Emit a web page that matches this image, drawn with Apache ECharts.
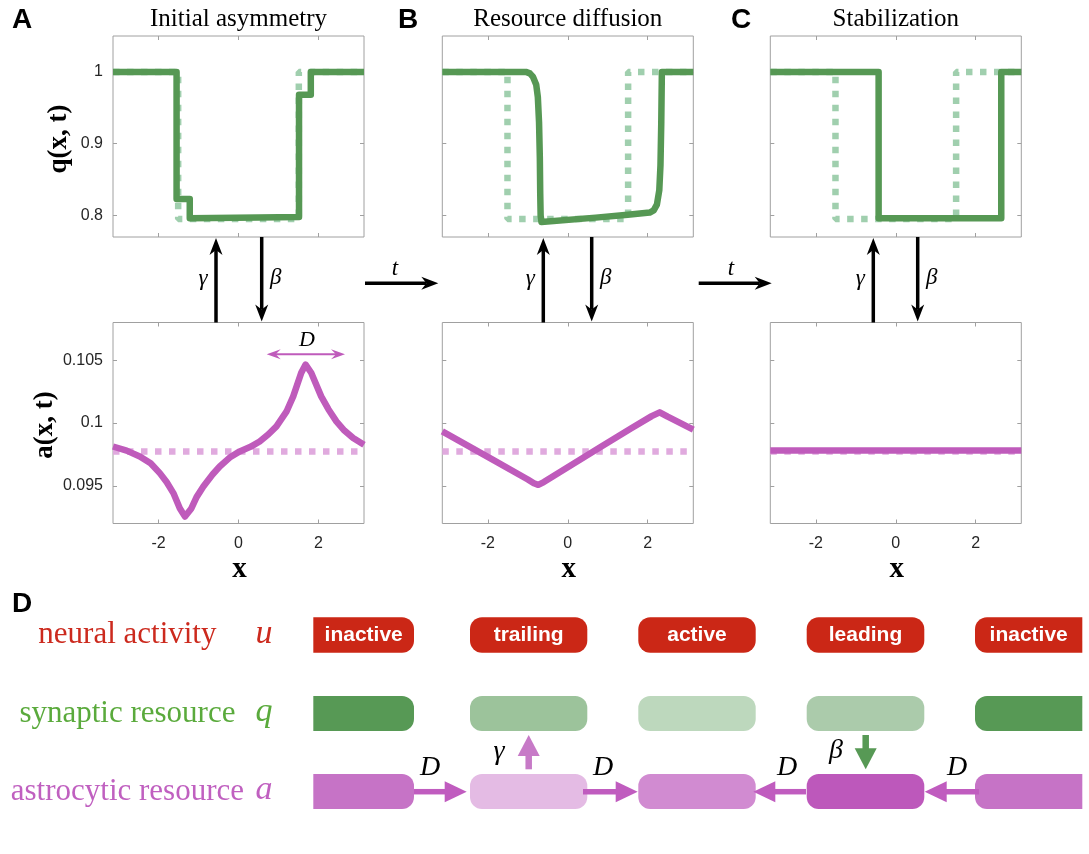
<!DOCTYPE html>
<html><head><meta charset="utf-8">
<script src="https://cdn.jsdelivr.net/npm/echarts@6/dist/echarts.min.js"></script>
<style>html,body{margin:0;padding:0;background:#fff}#c{width:1089px;height:854px}</style>
</head><body><div id="c"></div>
<script>
const PI = Math.PI;
// ---------- data ----------
const xTicks = [-2, 0, 2];
const qTicks = [0.8, 0.9, 1];
const aTicks = [0.095, 0.1, 0.105];
const qRange = [0.77, 1.05];
const aRange = [0.092, 0.108];
const panelTitles = ['Initial asymmetry', 'Resource diffusion', 'Stabilization'];
const panelLetters = ['A', 'B', 'C'];

const qInitial = [[-PI,1],[-1.51,1],[-1.51,0.795],[1.51,0.795],[1.51,1],[PI,1]];
const qA = [[-PI,1],[-1.55,1],[-1.55,0.823],[-1.22,0.823],[-1.22,0.796],[0.5,0.797],[1.515,0.798],[1.515,0.968],[1.81,0.968],[1.81,1],[PI,1]];
const qB = [[-PI,1],[-1.05,1],[-0.95,0.998],[-0.87,0.993],[-0.79,0.982],[-0.75,0.965],[-0.72,0.93],[-0.70,0.88],[-0.69,0.83],[-0.68,0.80],[-0.66,0.791],[0.7,0.797],[1.5,0.801],[2.05,0.804],[2.15,0.807],[2.23,0.815],[2.29,0.835],[2.32,0.87],[2.34,0.93],[2.355,1],[PI,1]];
const qC = [[-PI,1],[-0.43,1],[-0.43,0.796],[2.64,0.796],[2.64,1],[PI,1]];

const aInitial = [[-PI,0.09774],[PI,0.09774]];
const aA = [[-PI,0.09813],[-2.8,0.0978],[-2.47,0.09734],[-2.2,0.0968],[-1.97,0.09601],[-1.8,0.0953],[-1.63,0.09442],[-1.47,0.09322],[-1.34,0.09255],[-1.18,0.0932],[-1.05,0.0941],[-0.88,0.09494],[-0.65,0.0959],[-0.47,0.09654],[-0.2,0.0973],[0.03,0.09774],[0.3,0.0981],[0.53,0.09853],[0.75,0.0991],[0.95,0.09973],[1.2,0.1009],[1.37,0.10212],[1.57,0.10399],[1.68,0.10465],[1.82,0.104],[2.07,0.10212],[2.25,0.1011],[2.45,0.10013],[2.65,0.0994],[2.87,0.0988],[PI,0.09827]];
const aB = [[-PI,0.09933],[-1.87,0.09707],[-1.0,0.0955],[-0.85,0.0952],[-0.74,0.09508],[-0.6,0.0953],[0.8,0.09805],[1.6,0.0996],[2.1,0.10055],[2.3,0.10085],[2.5,0.1005],[PI,0.09947]];
const aC = [[-PI,0.09781],[PI,0.09781]];

const qSeries = [qA, qB, qC];
const aSeries = [aA, aB, aC];

const stateLabels = ['inactive', 'trailing', 'active', 'leading', 'inactive'];
const rowNames = ['neural activity', 'synaptic resource', 'astrocytic resource'];
const rowSymbols = ['u', 'q', 'a'];
const rowTextColors = ['#cc2a1e', '#5aaa3c', '#c060c0'];
const boxColors = [
  ['#cb2716','#cb2716','#cb2716','#cb2716','#cb2716'],
  ['#579955','#9cc39b','#bdd8bd','#abcbab','#579955'],
  ['#c673c6','#e4bbe4','#d18bd1','#bd58bb','#c673c6']
];

// ---------- layout ----------
const cols = [113, 442.3, 770.3];
const GW = 251, GH = 201;
const rowsTop = [36, 322.5];
const GREEN = '#569854', GREEN_L = '#a0cfae', MAG = '#bf5bbb', MAG_L = '#e0aade';
const AX = '#a0a0a0';
const SERIF = '"Liberation Serif", "Times New Roman", serif';
const SANS = '"Liberation Sans", Arial, sans-serif';

const grids = [], xAxes = [], yAxes = [], series = [];
for (let r = 0; r < 2; r++) {
  for (let c = 0; c < 3; c++) {
    const gi = r * 3 + c;
    grids.push({left: cols[c], top: rowsTop[r], width: GW, height: GH, show: true, borderColor: AX, borderWidth: 1, backgroundColor: 'transparent'});
    const tick = {inside: true, length: 4, lineStyle: {color: AX, width: 1}, customValues: xTicks};
    xAxes.push({gridIndex: gi, type: 'value', min: -PI, max: PI, position: 'bottom',
      axisLine: {show: false, onZero: false}, splitLine: {show: false}, axisTick: tick,
      axisLabel: {show: r === 1, customValues: xTicks, margin: 12, fontSize: 16, color: '#262626', fontFamily: SANS}});
    xAxes.push({gridIndex: gi, type: 'value', min: -PI, max: PI, position: 'top',
      axisLine: {show: false, onZero: false}, splitLine: {show: false}, axisTick: tick, axisLabel: {show: false}});
    const yt = r === 0 ? qTicks : aTicks;
    const yr = r === 0 ? qRange : aRange;
    const ytick = {inside: true, length: 4, lineStyle: {color: AX, width: 1}, customValues: yt};
    yAxes.push({gridIndex: gi, type: 'value', min: yr[0], max: yr[1], position: 'left',
      axisLine: {show: false, onZero: false}, splitLine: {show: false}, axisTick: ytick,
      axisLabel: {show: c === 0, customValues: yt, margin: 10, fontSize: 16, color: '#262626', fontFamily: SANS,
        formatter: v => String(+(+v).toFixed(3))}});
    yAxes.push({gridIndex: gi, type: 'value', min: yr[0], max: yr[1], position: 'right',
      axisLine: {show: false, onZero: false}, splitLine: {show: false}, axisTick: ytick, axisLabel: {show: false}});
    const initial = r === 0 ? qInitial : aInitial;
    const main = r === 0 ? qSeries[c] : aSeries[c];
    series.push({type: 'line', xAxisIndex: 2 * gi, yAxisIndex: 2 * gi, data: initial, symbol: 'none', z: 2,
      lineStyle: {color: r === 0 ? GREEN_L : MAG_L, width: 6.5, type: [6.5, 7.5], cap: 'butt'}, animation: false});
    series.push({type: 'line', xAxisIndex: 2 * gi, yAxisIndex: 2 * gi, data: main, symbol: 'none', z: 3,
      lineStyle: {color: r === 0 ? GREEN : MAG, width: 6.5, join: 'round', cap: 'butt'}, animation: false});
  }
}

// ---------- annotations ----------
const G = [];
function txt(x, y, text, font, fill, align, rot) {
  G.push({type: 'text', x, y, rotation: rot || 0, z: 100,
    style: {text, font, fill: fill || '#000', align: align || 'center', verticalAlign: 'middle'}});
}
function arrow(x1, y1, x2, y2, color, w, hl, hw, notch) {
  const dx = x2 - x1, dy = y2 - y1, L = Math.hypot(dx, dy);
  const ux = dx / L, uy = dy / L, px = -uy, py = ux;
  const bx = x2 - ux * hl, by = y2 - uy * hl;
  const nx = x2 - ux * hl * notch, ny = y2 - uy * hl * notch;
  G.push({type: 'line', z: 100, shape: {x1, y1, x2: nx, y2: ny}, style: {stroke: color, lineWidth: w}});
  G.push({type: 'polygon', z: 101, shape: {points: [[x2, y2], [bx + px * hw / 2, by + py * hw / 2], [nx, ny], [bx - px * hw / 2, by - py * hw / 2]]}, style: {fill: color}});
}
for (let c = 0; c < 3; c++) txt(cols[c] + GW / 2, 19, panelTitles[c], '25px ' + SERIF, '#000');
[[12, 20], [398, 20], [731, 20]].forEach((p, i) => txt(p[0], p[1], panelLetters[i], 'bold 28px ' + SANS, '#000', 'left'));
txt(12, 604, 'D', 'bold 28px ' + SANS, '#000', 'left');
txt(59, 139, 'q(x, t)', 'bold 27px ' + SERIF, '#000', 'center', PI / 2);
txt(45, 425, 'a(x, t)', 'bold 27px ' + SERIF, '#000', 'center', PI / 2);
for (let c = 0; c < 3; c++) txt(cols[c] + GW / 2 + 1, 570, 'x', 'bold 29px ' + SERIF, '#000');
const gX = [216, 543.3, 873.3], bX = [261.7, 591.7, 917.7];
for (let c = 0; c < 3; c++) {
  arrow(gX[c], 322.5, gX[c], 238, '#000', 3.5, 17, 13, 0.7);
  arrow(bX[c], 237, bX[c], 321.5, '#000', 3.5, 17, 13, 0.7);
  txt(gX[c] - 13, 279, 'γ', 'italic 23px ' + SERIF, '#000');
  txt(bX[c] + 14, 278, 'β', 'italic 23px ' + SERIF, '#000');
}
arrow(365, 283.3, 438.3, 283.3, '#000', 3.5, 17, 13, 0.7);
arrow(698.7, 283.3, 771.7, 283.3, '#000', 3.5, 17, 13, 0.7);
txt(395, 269, 't', 'italic 23px ' + SERIF, '#000');
txt(731, 269, 't', 'italic 23px ' + SERIF, '#000');
(function () {
  const x1 = 266.7, x2 = 345, y = 354.3;
  G.push({type: 'line', z: 100, shape: {x1: x1 + 8, y1: y, x2: x2 - 8, y2: y}, style: {stroke: MAG, lineWidth: 2}});
  G.push({type: 'polygon', z: 101, shape: {points: [[x1, y], [x1 + 14, y - 5], [x1 + 9, y], [x1 + 14, y + 5]]}, style: {fill: MAG}});
  G.push({type: 'polygon', z: 101, shape: {points: [[x2, y], [x2 - 14, y - 5], [x2 - 9, y], [x2 - 14, y + 5]]}, style: {fill: MAG}});
  txt(307, 340, 'D', 'italic 22px ' + SERIF, '#000');
})();

// ---------- panel D diagram ----------
const boxX = [[313.3, 414], [470, 587.3], [638.3, 755.7], [806.7, 924.3], [975, 1082.3]];
const rowY = [[617.3, 652.7], [696, 731], [774, 809]];
for (let r = 0; r < 3; r++) {
  for (let b = 0; b < 5; b++) {
    const R = 12;
    const rad = b === 0 ? [0, R, R, 0] : (b === 4 ? [R, 0, 0, R] : R);
    G.push({type: 'rect', z: 90, shape: {x: boxX[b][0], y: rowY[r][0], width: boxX[b][1] - boxX[b][0], height: rowY[r][1] - rowY[r][0], r: rad},
      style: {fill: boxColors[r][b]}});
    if (r === 0) txt((boxX[b][0] + boxX[b][1]) / 2, (rowY[r][0] + rowY[r][1]) / 2, stateLabels[b], 'bold 21px ' + SANS, '#fff');
  }
  const cy = (rowY[r][0] + rowY[r][1]) / 2;
  txt(127.4, cy, rowNames[r], '31px ' + SERIF, rowTextColors[r]);
  txt(264, cy - 1, rowSymbols[r], 'italic 34px ' + SERIF, rowTextColors[r]);
}
function triArrow(x1, y1, x2, y2, color, w, hl, hw) {
  const dx = x2 - x1, dy = y2 - y1, L = Math.hypot(dx, dy);
  const ux = dx / L, uy = dy / L, px = -uy, py = ux;
  const bx = x2 - ux * hl, by = y2 - uy * hl;
  G.push({type: 'line', z: 100, shape: {x1, y1, x2: bx + ux, y2: by + uy}, style: {stroke: color, lineWidth: w}});
  G.push({type: 'polygon', z: 101, shape: {points: [[x2, y2], [bx + px * hw / 2, by + py * hw / 2], [bx - px * hw / 2, by - py * hw / 2]]}, style: {fill: color}});
}
const AY = 791.7, MAGD = '#c05cbf';
triArrow(414, AY, 466.7, AY, MAGD, 5.5, 22, 21);
triArrow(583, AY, 637.7, AY, MAGD, 5.5, 22, 21);
triArrow(806, AY, 753.3, AY, MAGD, 5.5, 22, 21);
triArrow(979, AY, 924.7, AY, MAGD, 5.5, 22, 21);
[430, 603, 787, 957].forEach(x => txt(x, 768, 'D', 'italic 28px ' + SERIF, '#000'));
triArrow(528.7, 769.3, 528.7, 735, '#c77ac7', 6.5, 21, 22);
triArrow(865.7, 735, 865.7, 769.3, '#579955', 6.5, 21, 22);
txt(499, 752, 'γ', 'italic 28px ' + SERIF, '#000');
txt(836, 751, 'β', 'italic 28px ' + SERIF, '#000');

const chart = echarts.init(document.getElementById('c'), null, {renderer: 'canvas'});
chart.setOption({
  animation: false,
  backgroundColor: '#fff',
  grid: grids, xAxis: xAxes, yAxis: yAxes, series,
  graphic: G
});
</script></body></html>
